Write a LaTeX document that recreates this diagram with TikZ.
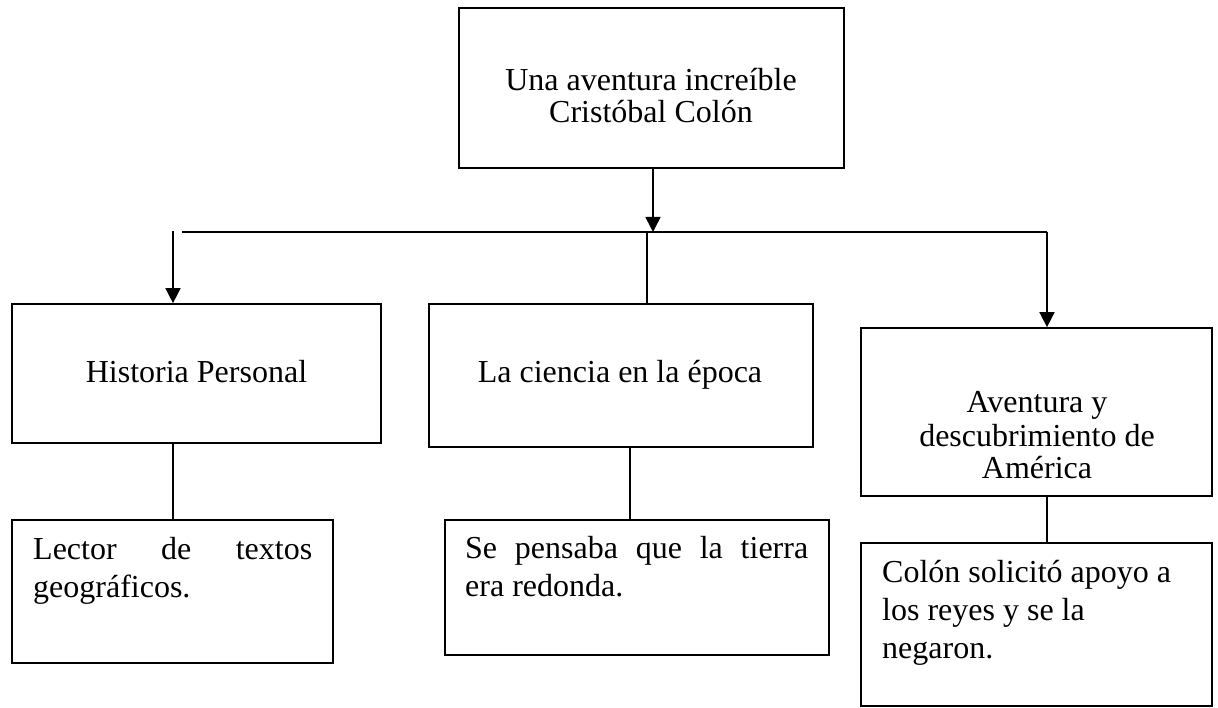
\documentclass[tikz,border=0pt]{standalone}
\usepackage{fontspec}
\setmainfont{Liberation Serif}
\usetikzlibrary{arrows.meta}
\begin{document}
\begin{tikzpicture}[x={(1pt,0)},y={(0,-1pt)},
  box/.style={draw,line width=1.7pt,inner sep=0pt,rectangle},
  txt/.style={inner sep=0pt,anchor=base,font=\fontsize{32}{38}\selectfont},
  txtl/.style={txt,anchor=base west},
  conn/.style={line width=1.6pt},
  arr/.style={conn,-{Triangle[width=15pt,length=15pt]}}]
\useasboundingbox (0,0) rectangle (1218,708);
% boxes
\node[box,minimum width=385pt,minimum height=160pt] (top) at (651.5,88) {};
\node[box,minimum width=369pt,minimum height=139pt] (b1) at (196.5,373.5) {};
\node[box,minimum width=384pt,minimum height=143pt] (b2) at (621,375.5) {};
\node[box,minimum width=351pt,minimum height=168pt] (b3) at (1036.5,412) {};
\node[box,minimum width=321pt,minimum height=143pt] (b4) at (172.5,591.5) {};
\node[box,minimum width=384pt,minimum height=135pt] (b5) at (637,587.5) {};
\node[box,minimum width=351pt,minimum height=163pt] (b6) at (1036.5,624.5) {};
% texts
\node[txt] (t1) at (651,91) {Una aventura increíble};
\node[txt] (t2) at (651,123) {Cristóbal Colón};
\node[txt] (t3) at (196.5,382) {Historia Personal};
\node[txt] (t4) at (620,382) {La ciencia en la época};
\node[txt] (t5) at (1037,413) {Aventura y};
\node[txt] (t6) at (1037,446) {descubrimiento de};
\node[txt] (t7) at (1037,478) {América};
\node[txtl] (t8) at (33,559) {\makebox[279pt][s]{Lector\hfill de\hfill textos}};
\node[txtl] (t9) at (33,597) {geográficos.};
\node[txtl] (t10) at (465,558) {\makebox[343pt][s]{Se\hfill pensaba\hfill que\hfill la\hfill tierra}};
\node[txtl] (t11) at (465,596) {era redonda.};
\node[txtl] (t12) at (882,582) {Colón solicitó apoyo a};
\node[txtl] (t13) at (882,620) {los reyes y se la};
\node[txtl] (t14) at (882,658) {negaron.};
% junction coordinates
\coordinate (barL) at (182,232);
\coordinate (jt) at (653,232);
\coordinate (jl) at (173,231);
\coordinate (jm) at (647,232);
\coordinate (jr) at (1047,232);
\coordinate (x1) at (173,0);
\coordinate (x2) at (630,0);
% connectors
\draw[arr] (top.south -| jt) -- (jt);
\draw[conn] (barL) -- (jr);
\draw[arr] (jl) -- (jl |- b1.north);
\draw[conn] (jm) -- (jm |- b2.north);
\draw[arr] (jr) -- (jr |- b3.north);
\draw[conn] (x1 |- b1.south) -- (x1 |- b4.north);
\draw[conn] (x2 |- b2.south) -- (x2 |- b5.north);
\draw[conn] (jr |- b3.south) -- (jr |- b6.north);
\end{tikzpicture}
\end{document}
